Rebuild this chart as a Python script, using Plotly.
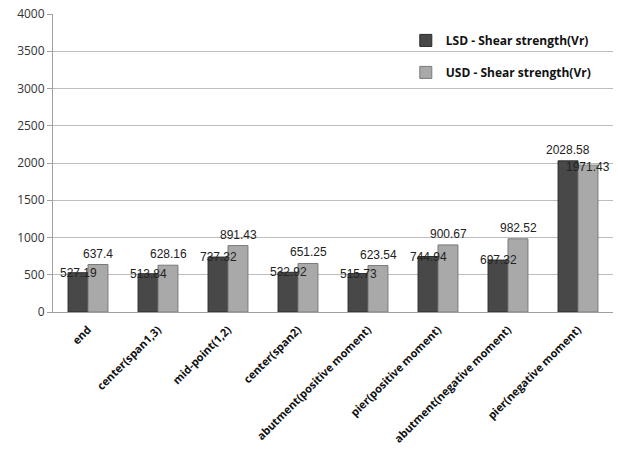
import plotly.graph_objects as go

categories = ["end", "center(span1,3)", "mid-point(1,2)", "center(span2)",
              "abutment(positive moment)", "pier(positive moment)",
              "abutment(negative moment)", "pier(negative moment)"]
lsd_values = [527.19, 513.84, 737.32, 532.92, 515.73, 744.94, 697.32, 2028.58]
usd_values = [637.4, 628.16, 891.43, 651.25, 623.54, 900.67, 982.52, 1971.43]
lsd_labels = ["527.19", "513.84", "737.32", "532.92", "515.73", "744.94", "697.32", "2028.58"]
usd_labels = ["637.4", "628.16", "891.43", "651.25", "623.54", "900.67", "982.52", "1971.43"]
y_ticks = [0, 500, 1000, 1500, 2000, 2500, 3000, 3500, 4000]

fig = go.Figure()
fig.add_trace(go.Bar(
    x=categories, y=lsd_values, name="LSD - Shear strength(Vr)",
    marker=dict(color="#484848", line=dict(color="#2a2a2a", width=1)),
    legendgroup="a",
))
fig.add_trace(go.Bar(
    x=categories, y=usd_values, name="USD - Shear strength(Vr)",
    marker=dict(color="#a9a9a9", line=dict(color="#7a7a7a", width=1)),
    legendgroup="b",
))

label_font = dict(size=12, color="#222222", family="Liberation Sans")
annotations = []
for cat, lv, uv, lt, ut in zip(categories, lsd_values, usd_values, lsd_labels, usd_labels):
    l_high = lv >= uv
    annotations.append(dict(x=cat, y=lv, text=lt, xref="x", yref="y", showarrow=False,
                            xshift=-10, yanchor="bottom" if l_high else "middle",
                            yshift=2 if l_high else 0, font=label_font))
    annotations.append(dict(x=cat, y=uv, text=ut, xref="x", yref="y", showarrow=False,
                            xshift=10, yanchor="middle" if l_high else "bottom",
                            yshift=-2 if l_high else 2, font=label_font))

fig.update_layout(
    width=618, height=455,
    margin=dict(l=53, r=5, t=14, b=143, autoexpand=False),
    paper_bgcolor="white", plot_bgcolor="white",
    barmode="group", bargap=0.43, bargroupgap=0.0,
    showlegend=True,
    legend=dict(x=0.63, y=0.96, xanchor="left", yanchor="top",
                bgcolor="rgba(0,0,0,0)", tracegroupgap=13,
                traceorder="grouped", itemwidth=30,
                font=dict(size=12, family="Open Sans", color="#111111", weight="bold")),
    font=dict(family="Open Sans"),
    annotations=annotations,
)
fig.update_yaxes(range=[0, 4000], tickvals=y_ticks, showgrid=True,
                 gridcolor="#bdbdbd", gridwidth=1, showline=True,
                 linecolor="#a0a0a0", ticks="outside", ticklen=5,
                 tickcolor="#a0a0a0", zeroline=False,
                 tickfont=dict(size=12, color="#333333"))
fig.update_xaxes(tickangle=-45, showline=True, linecolor="#a0a0a0",
                 ticks="", ticklabelstandoff=6,
                 tickfont=dict(size=11, color="#111111", weight="bold"))

fig.write_html("out.html")
